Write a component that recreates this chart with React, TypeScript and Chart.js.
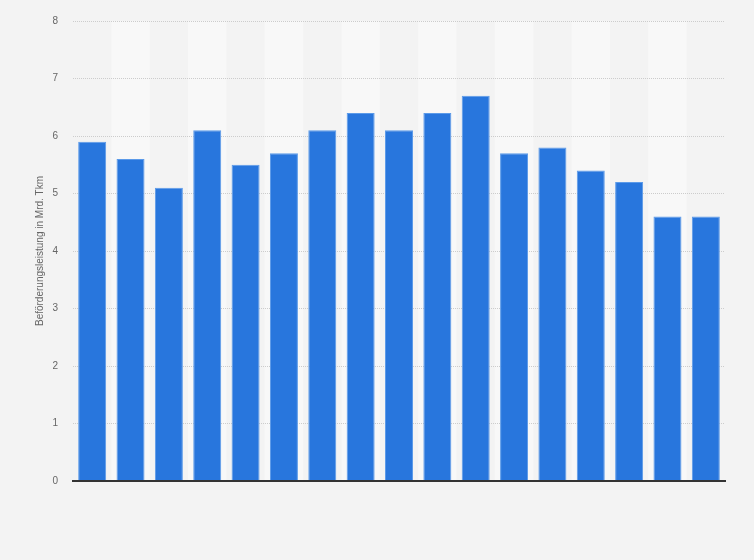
import React, { useEffect, useRef } from "react";
import { Chart, registerables } from "chart.js";

Chart.register(...registerables);

const categories = ["2004", "2005", "2006", "2007", "2008", "2009", "2010", "2011", "2012", "2013", "2014", "2015", "2016", "2017", "2018", "2019", "2020"];
const values = [5.9, 5.6, 5.1, 6.1, 5.5, 5.7, 6.1, 6.4, 6.1, 6.4, 6.7, 5.7, 5.8, 5.4, 5.2, 4.6, 4.6];
const yTitle = "Beförderungsleistung in Mrd. Tkm";
const yMin = 0;
const yMax = 8;

const bgPlugin = {
  id: "bg",
  beforeDraw(chart: any) {
    const { ctx, width, height, chartArea, scales } = chart;
    ctx.save();
    ctx.fillStyle = "#f3f3f3";
    ctx.fillRect(0, 0, width, height);
    const x = scales.x;
    const n = categories.length;
    const w = (chartArea.right - chartArea.left) / n;
    ctx.fillStyle = "#f8f8f8";
    for (let i = 1; i < n; i += 2) {
      const c = x.getPixelForValue(i);
      ctx.fillRect(c - w / 2, chartArea.top, w, chartArea.bottom - chartArea.top);
    }
    ctx.restore();
  },
};

export default function App() {
  const ref = useRef<HTMLCanvasElement | null>(null);
  useEffect(() => {
    document.body.style.margin = "0";
    const chart = new Chart(ref.current as HTMLCanvasElement, {
      type: "bar",
      data: {
        labels: categories,
        datasets: [
          {
            data: values,
            backgroundColor: "#2876dd",
            borderColor: "#5b9ae9",
            borderWidth: 1,
            barPercentage: 0.73,
            categoryPercentage: 1,
          },
        ],
      },
      options: {
        animation: false,
        responsive: false,
        maintainAspectRatio: false,
        layout: { padding: { left: 0, top: 20, right: 29, bottom: 79 } },
        plugins: { legend: { display: false }, tooltip: { enabled: false } },
        scales: {
          x: {
            grid: { display: false, drawTicks: false },
            ticks: { display: false },
            border: { display: true, color: "#333333", width: 2, z: 1 },
            afterFit: (s: any) => {
              s.height = 0;
            },
          },
          y: {
            min: yMin,
            max: yMax,
            ticks: {
              stepSize: 1,
              padding: 15,
              color: "#666666",
              font: { family: "'Liberation Sans', Arial, sans-serif", size: 10 },
            },
            grid: { color: "#cccccc", drawTicks: false, lineWidth: 1 },
            border: { display: false, dash: [1, 1] },
            title: {
              display: true,
              text: yTitle,
              color: "#666666",
              font: { family: "'Liberation Sans', Arial, sans-serif", size: 10 },
              padding: { top: 34, bottom: 0 },
            },
            afterFit: (s: any) => {
              s.width = 73;
            },
          },
        },
      },
      plugins: [bgPlugin],
    });
    return () => chart.destroy();
  }, []);
  return (
    <div style={{ position: "absolute", left: 0, top: 0, width: 754, height: 560 }}>
      <canvas ref={ref} width={754} height={560} style={{ display: "block", width: 754, height: 560 }} />
    </div>
  );
}
